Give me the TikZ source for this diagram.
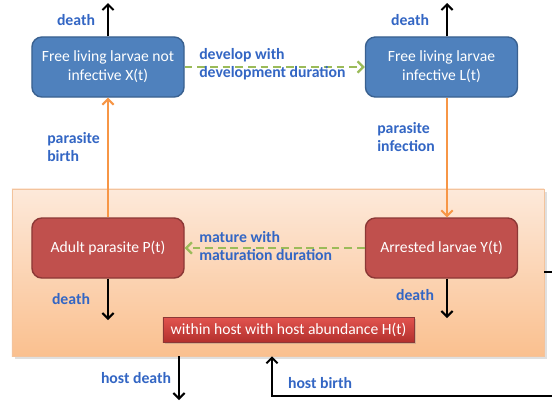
\documentclass[tikz,border=0pt]{standalone}
\usepackage{fontspec}
\setmainfont{Carlito}
\usepackage{tikz}
\usetikzlibrary{arrows.meta,shadows}
\definecolor{bluefill}{HTML}{4F81BD}
\definecolor{blueedge}{HTML}{3A6190}
\definecolor{redfill}{HTML}{C0504D}
\definecolor{rededge}{HTML}{8C3836}
\definecolor{labblue}{HTML}{3366C4}
\definecolor{flow}{HTML}{F79646}
\definecolor{delay}{HTML}{9BBB59}
\definecolor{hosttop}{HTML}{FDE9DA}
\definecolor{hostbot}{HTML}{FAC08F}
\definecolor{hostedge}{HTML}{F3C39C}
\definecolor{bartop}{HTML}{E2544F}
\definecolor{barbot}{HTML}{B3302D}
\tikzset{
  stage/.style={rounded corners=7pt, line width=1pt, minimum width=3.8cm, minimum height=1.5cm,
    align=center, text=white, font=\fontsize{11.1}{13.5}\selectfont, inner sep=1pt},
  free/.style={stage, fill=bluefill, draw=blueedge},
  inhost/.style={stage, fill=redfill, draw=rededge},
  loss/.style={draw=black, line width=1.4pt, -{Straight Barb[length=4pt,width=8pt]}},
  pass/.style={draw=flow, line width=1.4pt, -{Straight Barb[length=4pt,width=8pt]}},
  wait/.style={draw=delay, line width=1.6pt, dash pattern=on 5.5pt off 3.5pt, -{Straight Barb[length=4pt,width=8pt]}},
  lab/.style={text=labblue, font=\bfseries\fontsize{11.2}{13}\selectfont, inner sep=0pt, align=left},
}

\begin{document}
\begin{tikzpicture}[x=0.025cm, y=-0.025cm]
  \fill[white] (0,0) rectangle (552,404);
  \useasboundingbox (0,0) rectangle (552,404);
  % host compartment
  \node[draw=hostedge, line width=0.4pt, top color=hosttop, bottom color=hostbot,
    minimum width=13.3cm, minimum height=4.175cm, drop shadow={opacity=0.25, shadow xshift=2pt, shadow yshift=-2pt}]
    (host) at (278,272.5) {};
  \node[fill=redfill, top color=bartop, bottom color=barbot, draw=rededge, line width=0.5pt,
    minimum width=6.275cm, minimum height=0.625cm, text=white, font=\fontsize{11.1}{13.5}\selectfont,
    drop shadow={opacity=0.3, shadow xshift=1.5pt, shadow yshift=-1.5pt}]
    (abund) at (288.5,329.5) {within host with host abundance H(t)};
  % stages
  \node[free] (X) at (108,67) {Free living larvae not\\infective X(t)};
  \node[free] (L) at (441.5,67) {Free living larvae\\infective L(t)};
  \node[inhost] (P) at (108,248) {Adult parasite P(t)};
  \node[inhost] (Y) at (441.5,248) {Arrested larvae Y(t)};
  % free ends
  \coordinate (xd) at (108,3);
  \coordinate (ld) at (447,3);
  \coordinate (pd) at (108,320);
  \coordinate (yd) at (447,318);
  \coordinate (hd) at (179,400);
  \coordinate (hb) at (272,396);
  \coordinate (rim) at (560,272);
  % flows
  \draw[wait] (X) -- (L);
  \draw[wait] (Y) -- (P);
  \draw[pass] (P) -- (X);
  \draw[pass] (L.south -| ld) -- (Y.north -| ld);
  \draw[loss] (X) -- (xd);
  \draw[loss] (L.north -| ld) -- (ld);
  \draw[loss] (P) -- (pd);
  \draw[loss] (Y.south -| yd) -- (yd);
  \draw[loss] (host.south -| hd) -- (hd);
  \draw[loss] (host.east |- rim) -- (rim) |- (hb) -- (host.south -| hb);
  % labels
  \node[lab] (ldx) at (76,20) {death};
  \node[lab] (ldl) at (410,20) {death};
  \node[lab, anchor=west] (lbirth) at (47,147) {parasite\\birth};
  \node[lab, anchor=west] (linf) at (377,137) {parasite\\infection};
  \node[lab, anchor=west] (ldev) at (199,64) {develop with\\development duration};
  \node[lab, anchor=west] (lmat) at (199,246) {mature with\\maturation duration};
  \node[lab] (ldp) at (71,299) {death};
  \node[lab] (ldy) at (415,295) {death};
  \node[lab] (lhd) at (136,378) {host death};
  \node[lab] (lhb) at (320,383) {host birth};
\end{tikzpicture}
\end{document}
